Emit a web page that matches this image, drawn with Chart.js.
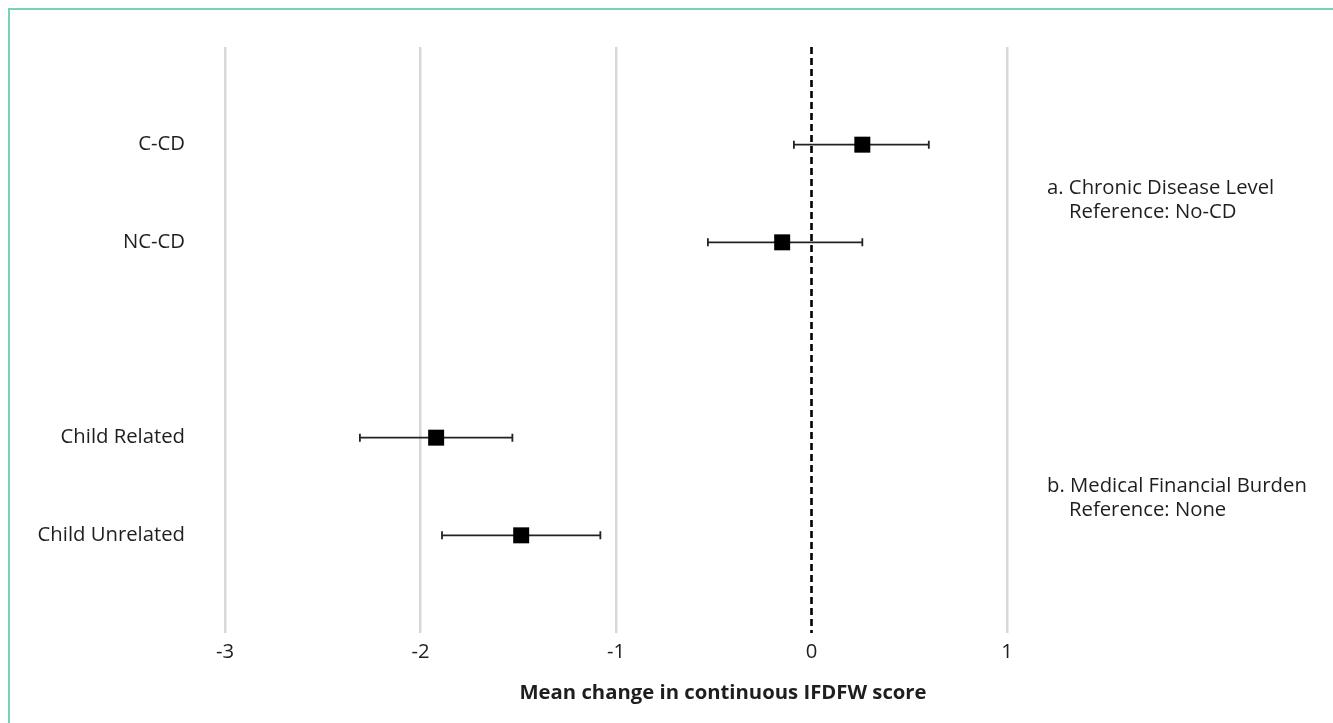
<!DOCTYPE html>
<html>
<head>
<meta charset="utf-8">
<script src="https://cdn.jsdelivr.net/npm/chart.js@4"></script>
<style>
  body { margin: 0; background: #fff; overflow: hidden; }
  #frame { position: absolute; left: 8px; top: 8px; width: 1400px; height: 800px;
           border-left: 2px solid #78d1b5; border-top: 2px solid #78d1b5; }
  #wrap { position: absolute; left: 0; top: 0; width: 1333px; height: 723px; }
</style>
</head>
<body>
<div id="frame"></div>
<div id="wrap"><canvas id="forest" width="1333" height="723"></canvas></div>
<script>
// rows of the forest plot, top to bottom (position 2 is the gap between groups)
const categories = ['C-CD', 'NC-CD', 'Child Related', 'Child Unrelated'];
const rowPos = [0, 1, 3, 4];
const means = [0.26, -0.15, -1.92, -1.485];
const lower = [-0.09, -0.53, -2.31, -1.89];
const upper = [0.60, 0.26, -1.53, -1.08];
const xTicks = [-3, -2, -1, 0, 1];

const groupNotes = [
  { at: 0.45, lines: ['a. Chronic Disease Level', 'Reference: No-CD'] },
  { at: 3.5, lines: ['b. Medical Financial Burden', 'Reference: None'] },
];

const FONT = '"Open Sans", "Noto Sans", sans-serif';
const TEXT = '#1e1e1e';
const FSIZE = 20.3;

var ctx = document.getElementById('forest').getContext('2d');

const points = means.map((m, i) => ({ x: m, y: rowPos[i] }));

// whiskers, zero line, side notes and axis title
const forestExtras = {
  id: 'forestExtras',
  beforeDatasetsDraw(chart) {
    const c = chart.ctx, xs = chart.scales.x, ys = chart.scales.y;
    c.save();
    c.strokeStyle = '#222';
    c.lineWidth = 1.8;
    for (let i = 0; i < means.length; i++) {
      const y = ys.getPixelForValue(rowPos[i]);
      const x1 = xs.getPixelForValue(lower[i]);
      const x2 = xs.getPixelForValue(upper[i]);
      c.beginPath();
      c.moveTo(x1, y); c.lineTo(x2, y);
      c.moveTo(x1, y - 4); c.lineTo(x1, y + 4);
      c.moveTo(x2, y - 4); c.lineTo(x2, y + 4);
      c.stroke();
    }
    // dashed reference line at 0
    const x0 = xs.getPixelForValue(0);
    c.strokeStyle = '#000';
    c.lineWidth = 2.6;
    c.setLineDash([7, 4]);
    c.beginPath();
    c.moveTo(x0, chart.chartArea.top);
    c.lineTo(x0, chart.chartArea.bottom);
    c.stroke();
    c.restore();
  },
  afterDraw(chart) {
    const c = chart.ctx, ys = chart.scales.y;
    c.save();
    c.fillStyle = TEXT;
    c.font = FSIZE + 'px ' + FONT;
    c.textBaseline = 'middle';
    c.textAlign = 'left';
    groupNotes.forEach(n => {
      const y = ys.getPixelForValue(n.at);
      c.fillText(n.lines[0], 1047, y);
      c.fillText(n.lines[1], 1069, y + 24);
    });
    c.font = 'bold ' + FSIZE + 'px ' + FONT;
    c.textAlign = 'center';
    c.fillText('Mean change in continuous IFDFW score', 723, 693);
    c.restore();
  }
};

const forest = new Chart(ctx, {
  type: 'scatter',
  data: {
    datasets: [{
      label: 'Mean change',
      data: points,
      pointStyle: 'rect',
      pointRadius: 11.3,
      pointHoverRadius: 11.3,
      backgroundColor: '#000',
      borderColor: '#000',
      borderWidth: 0,
    }]
  },
  options: {
    responsive: false,
    animation: false,
    layout: { padding: { top: 47, right: 326, left: 0, bottom: 0 } },
    plugins: {
      legend: { display: false },
      tooltip: { enabled: false },
    },
    scales: {
      x: {
        type: 'linear',
        min: -3,
        max: 1,
        afterBuildTicks: (axis) => { axis.ticks = xTicks.map(v => ({ value: v })); },
        afterFit: (axis) => { axis.height = 90; },
        grid: {
          drawTicks: false,
          lineWidth: 2.5,
          color: (c) => (c.tick && c.tick.value === 0 ? 'rgba(0,0,0,0)' : '#d8d8d8'),
        },
        border: { display: false },
        ticks: {
          padding: 7,
          color: TEXT,
          font: { size: FSIZE, family: FONT },
        },
      },
      y: {
        type: 'linear',
        reverse: true,
        min: -1,
        max: 5,
        afterBuildTicks: (axis) => { axis.ticks = rowPos.map(v => ({ value: v })); },
        afterFit: (axis) => {
          axis.width = 225;
          axis.paddingTop = 0;
          axis.paddingBottom = 0;
        },
        grid: { display: false, drawTicks: false },
        border: { display: false },
        ticks: {
          padding: 40,
          color: TEXT,
          font: { size: FSIZE, family: FONT },
          callback: (v) => {
            const i = rowPos.indexOf(v);
            return i >= 0 ? categories[i] : '';
          },
        },
      },
    },
  },
  plugins: [forestExtras],
});
</script>
</body>
</html>
